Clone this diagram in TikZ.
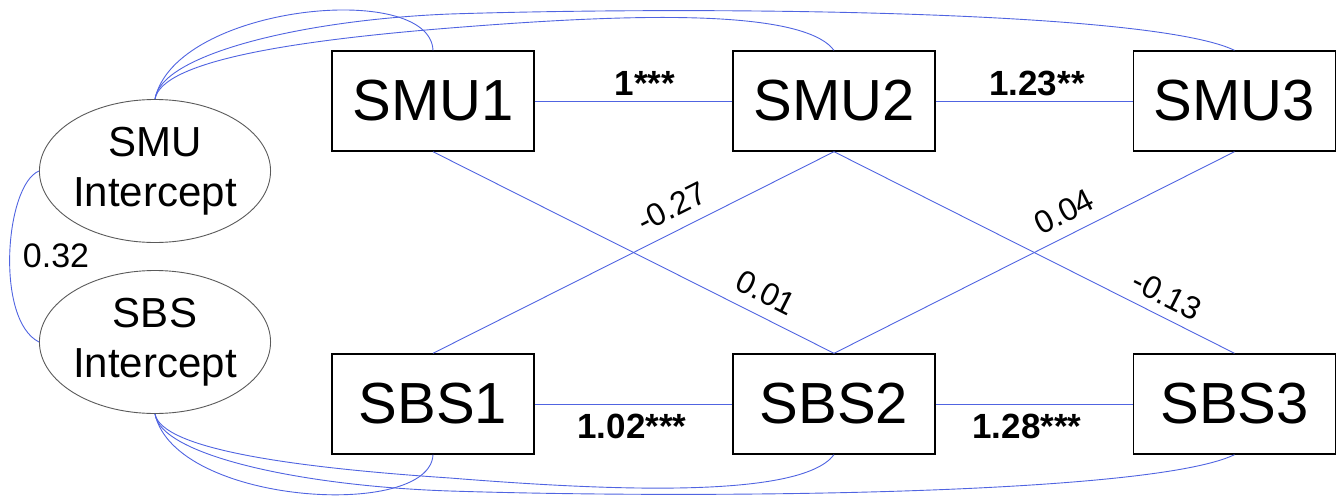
\documentclass[tikz,border=0pt]{standalone}
\usepackage{fontspec}
\setmainfont{Liberation Sans}
\usetikzlibrary{shapes.geometric}
\definecolor{pathblue}{RGB}{80,100,225}
\definecolor{ovalgray}{RGB}{90,90,90}

\begin{document}
\begin{tikzpicture}[x=1pt,y=-1pt,
  obsbox/.style={draw=black, line width=1.4pt, minimum width=202pt, minimum height=100pt,
                 inner sep=0pt, font=\fontsize{58}{60}\selectfont},
  latent/.style={draw=ovalgray, line width=0.9pt, ellipse, minimum width=224pt,
                 minimum height=143pt, inner sep=0pt, align=center,
                 font=\fontsize{42}{50}\selectfont},
  link/.style={draw=pathblue, line width=0.9pt},
  coef/.style={font=\bfseries\fontsize{35}{40}\selectfont, inner sep=0pt},
  crosscoef/.style={font=\fontsize{32}{36}\selectfont, inner sep=0pt}]

\useasboundingbox (0,0) rectangle (1336,498);

% latent intercepts
\node[latent] (smui) at (155,171) {SMU\\Intercept};
\node[latent] (sbsi) at (155,342) {SBS\\Intercept};

% observed waves
\node[obsbox] (smu1) at (433,101) {SMU1};
\node[obsbox] (smu2) at (834,101) {SMU2};
\node[obsbox] (smu3) at (1234.5,101) {SMU3};
\node[obsbox] (sbs1) at (433,404) {SBS1};
\node[obsbox] (sbs2) at (834,404) {SBS2};
\node[obsbox] (sbs3) at (1234.5,404) {SBS3};

% intercept covariance
\draw[link] (smui.west) .. controls (5,185) and (-5,320) .. (sbsi.west);
\node[inner sep=0pt, font=\fontsize{34}{38}\selectfont] (rcov) at (56,256) {0.32};

% intercept loadings (top)
\draw[link] (smui.north) .. controls (175,5) and (430,-20) .. (smu1.north);
\draw[link] (smui.north) .. controls (162,60) and (300,40) .. (450,28)
                         .. controls (600,16) and (800,5) .. (smu2.north);
\draw[link] (smui.north) .. controls (160,55) and (300,20) .. (450,14)
                         .. controls (700,6) and (1150,10) .. (smu3.north);

% intercept loadings (bottom)
\draw[link] (sbsi.south) .. controls (175,505) and (430,520) .. (sbs1.south);
\draw[link] (sbsi.south) .. controls (162,450) and (300,468) .. (450,478)
                         .. controls (600,490) and (800,500) .. (sbs2.south);
\draw[link] (sbsi.south) .. controls (160,455) and (300,486) .. (450,491)
                         .. controls (700,499) and (1150,495) .. (sbs3.south);

% autoregressive paths
\draw[link] (smu1.east) -- (smu2.west);
\draw[link] (smu2.east) -- (smu3.west);
\draw[link] (sbs1.east) -- (sbs2.west);
\draw[link] (sbs2.east) -- (sbs3.west);
\node[coef] (c12a) at (645,83) {1***};
\node[coef] (c23a) at (1037,83) {1.23**};
\node[coef] (c12b) at (632,426) {1.02***};
\node[coef] (c23b) at (1027,426) {1.28***};

% cross-lagged paths
\draw[link] (smu1.south) -- (sbs2.north);
\draw[link] (smu2.south) -- (sbs1.north);
\draw[link] (smu2.south) -- (sbs3.north);
\draw[link] (smu3.south) -- (sbs2.north);
\node[crosscoef, rotate=26.85] (x21) at (672,207) {-0.27};
\node[crosscoef, rotate=-26.85] (x12) at (766,293) {0.01};
\node[crosscoef, rotate=26.85] (x32) at (1064,212) {0.04};
\node[crosscoef, rotate=-26.85] (x23) at (1167,295) {-0.13};
\end{tikzpicture}
\end{document}
